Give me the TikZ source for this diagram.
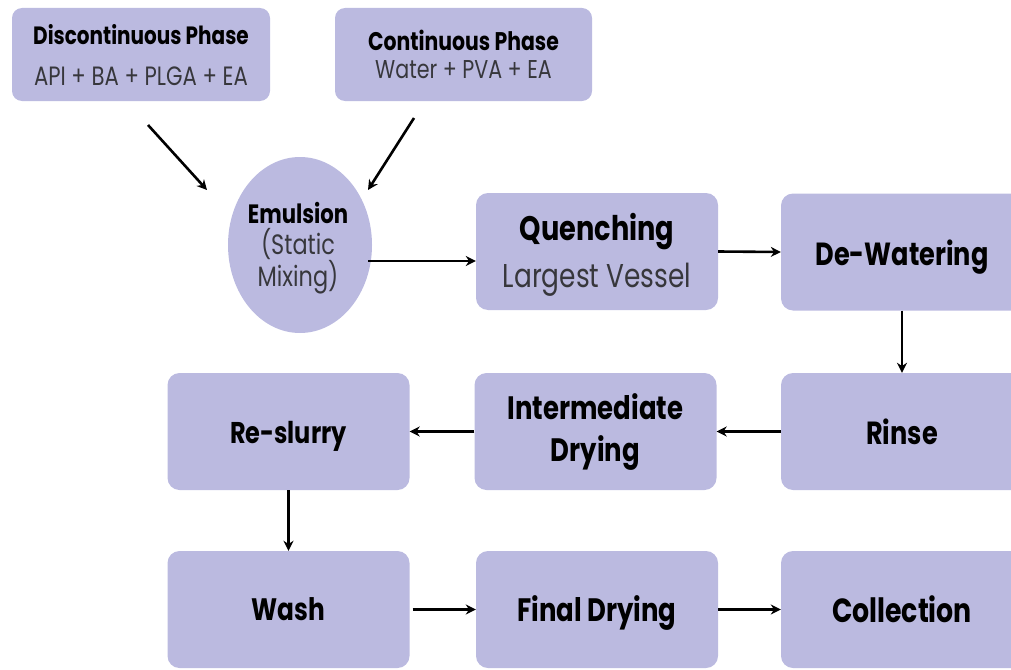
\documentclass[tikz,border=0pt]{standalone}
\usepackage{fontspec}
\setmainfont{Poppins}
\newfontfamily\gothic[FakeStretch=0.8]{Poppins}
\usetikzlibrary{arrows.meta,shapes.geometric}
\definecolor{boxfill}{RGB}{187,186,224}
\definecolor{subtext}{RGB}{55,55,60}
\newcommand{\lowertext}[2]{\raisebox{-#1}[\height][\depth]{#2}}
\tikzset{
  stepbox/.style={draw=none,fill=boxfill,rounded corners=12pt,minimum width=242pt,minimum height=117pt,align=center,font=\gothic\bfseries\fontsize{32}{42}\selectfont,inner sep=0pt},
  phasebox/.style={draw=none,fill=boxfill,rounded corners=10pt,minimum width=258pt,minimum height=93pt,inner sep=0pt},
  conn/.style={draw=black,line width=2.6pt,-{Stealth[length=10pt,width=10pt]}},
}
\begin{document}
\begin{tikzpicture}[x=1pt,y=-1pt]
\useasboundingbox (0,0) rectangle (1011,669);
\clip (0,0) rectangle (1011,669);
\node[phasebox] (disc) at (141,54.5) {};
\node[font=\gothic\bfseries\fontsize{25}{29}\selectfont] (disct) at (141,35) {Discontinuous Phase};
\node[font=\gothic\fontsize{26.5}{30}\selectfont,text=subtext] (discs) at (141,76) {API + BA + PLGA + EA};
\node[phasebox,minimum width=257pt] (cont) at (463.5,54.5) {};
\node[font=\gothic\bfseries\fontsize{25.5}{29}\selectfont] (contt) at (463.5,40) {Continuous Phase};
\node[font=\gothic\fontsize{25.8}{29}\selectfont,text=subtext] (conts) at (463.5,70) {Water + PVA + EA};
\node[ellipse,fill=boxfill,minimum width=144pt,minimum height=176pt,inner sep=0pt] (emul) at (300,245) {};
\node[font=\gothic\bfseries\fontsize{26.5}{30}\selectfont] (emult) at (298,213) {Emulsion};
\node[font=\gothic\fontsize{28}{31}\selectfont,text=subtext,align=center] (emuls) at (298,261) {(Static\\Mixing)};
\node[stepbox] (quen) at (597,251.5) {};
\node[font=\gothic\bfseries\fontsize{34}{38}\selectfont] (quent) at (597,232) {Quenching};
\node[font=\gothic\fontsize{33}{38}\selectfont,text=subtext] (quens) at (597,280) {Largest Vessel};
\node[stepbox] (dew) at (902,252) {\lowertext{5pt}{De-Watering}};
\node[stepbox] (rinse) at (902,431.5) {Rinse};
\node[stepbox,font=\gothic\bfseries\fontsize{32.4}{42}\selectfont] (inter) at (595.5,431.5) {Intermediate\\Drying};
\node[stepbox,font=\gothic\bfseries\fontsize{30}{42}\selectfont] (resl) at (288.5,431.5) {\lowertext{5pt}{Re-slurry}};
\node[stepbox,font=\gothic\bfseries\fontsize{31}{42}\selectfont] (wash) at (288.5,609.5) {Wash};
\node[stepbox,font=\gothic\bfseries\fontsize{32.4}{42}\selectfont] (final) at (597,609.5) {\lowertext{3pt}{Final Drying}};
\node[stepbox,font=\gothic\bfseries\fontsize{33.5}{42}\selectfont] (coll) at (902,609.5) {Collection};
\coordinate (a1) at (148,125);
\coordinate (b1) at (207,190);
\coordinate (a2) at (414,118);
\coordinate (b2) at (368,190);
\draw[conn] (a1) -- (b1);
\draw[conn] (a2) -- (b2);
\draw[conn] ([xshift=-4pt]emul.east |- 0,261) -- (quen.west |- 0,261);
\draw[conn] (quen.east) -- (dew.west);
\draw[conn] (dew.south) -- (rinse.north);
\draw[conn] (rinse.west) -- (inter.east);
\draw[conn] (inter.west) -- (resl.east);
\draw[conn] (resl.south) -- (wash.north);
\draw[conn] ([xshift=3pt]wash.east) -- (final.west);
\draw[conn] (final.east) -- (coll.west);
\end{tikzpicture}
\end{document}
